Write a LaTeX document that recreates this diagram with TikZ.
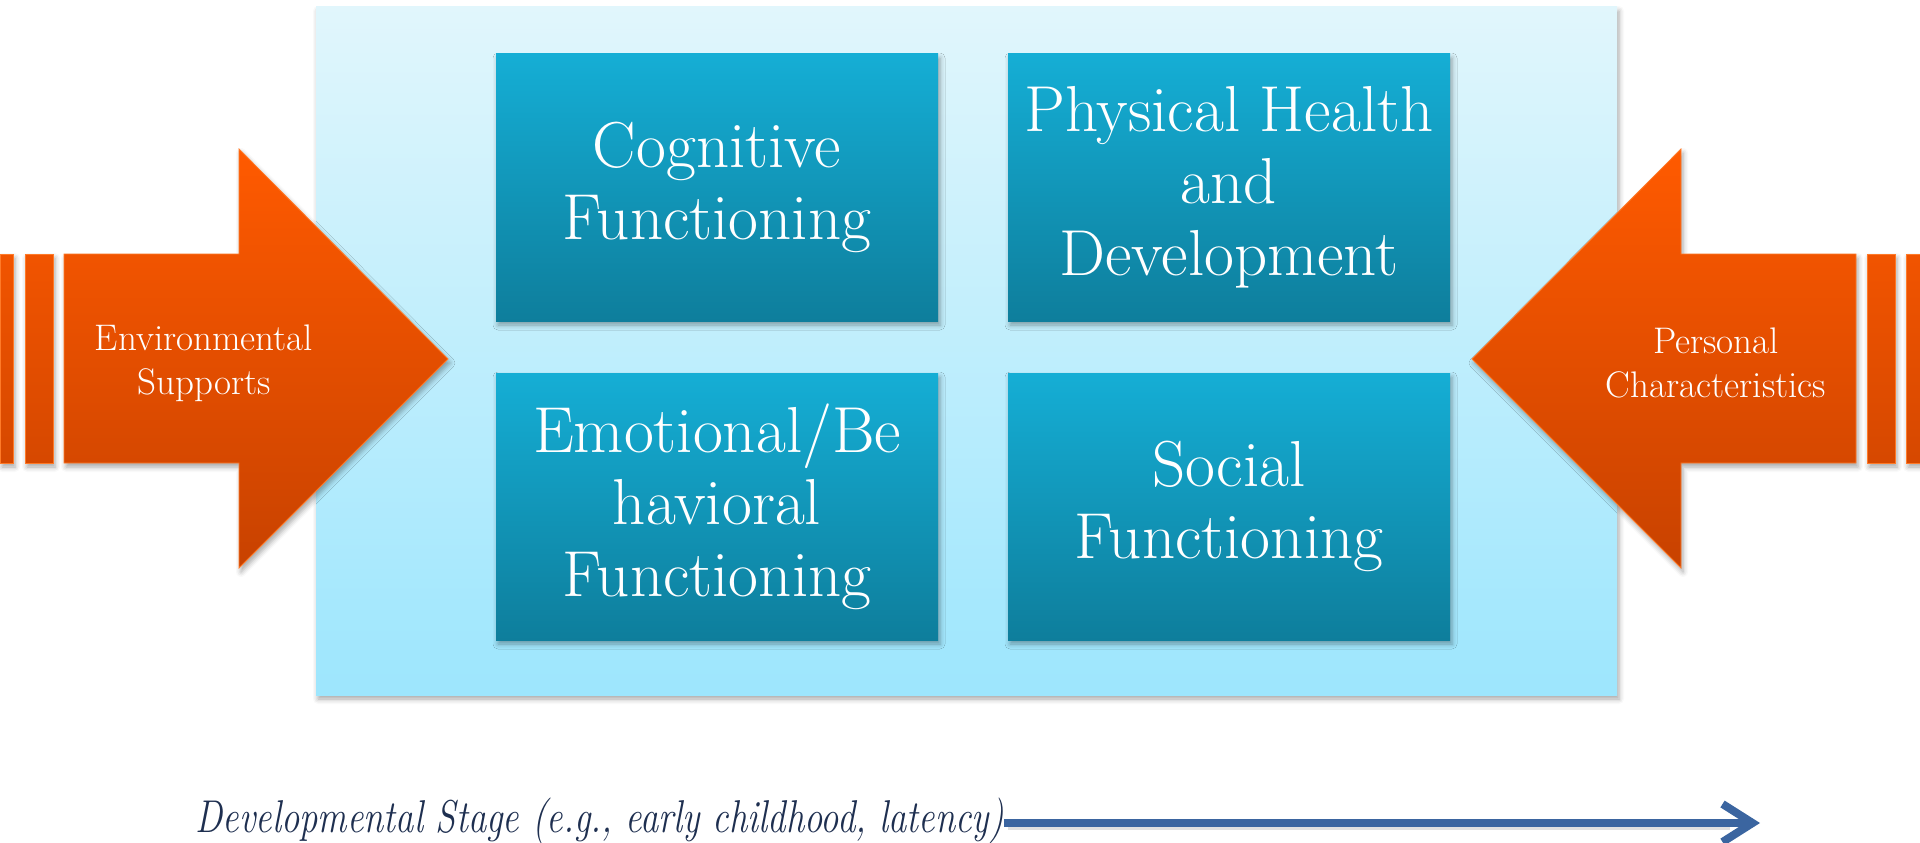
\documentclass[tikz,border=0pt]{standalone}
\usepackage{graphicx}
\usetikzlibrary{shadows.blur,arrows.meta}

\definecolor{panelTop}{RGB}{225,246,252}
\definecolor{panelBot}{RGB}{157,230,253}
\definecolor{boxTop}{RGB}{21,174,213}
\definecolor{boxBot}{RGB}{14,126,156}
\definecolor{orTop}{RGB}{255,90,0}
\definecolor{orBot}{RGB}{200,66,0}
\definecolor{orMidA}{RGB}{241,84,0}
\definecolor{orMidB}{RGB}{214,72,0}
\definecolor{orEdge}{RGB}{255,122,40}
\definecolor{navy}{RGB}{30,47,80}
\definecolor{stageBlue}{RGB}{59,101,160}

\begin{document}
\begin{tikzpicture}[x=1pt,y=-1pt,
  softshadow/.style={blur shadow={shadow xshift=2pt,shadow yshift=-4pt,
      shadow blur radius=5pt,shadow opacity=35}},
  panelbox/.style={rectangle,draw=none,top color=panelTop,bottom color=panelBot,
      softshadow,minimum width=1301pt,minimum height=688pt,inner sep=0pt},
  domainbox/.style={rectangle,draw=none,top color=boxTop,bottom color=boxBot,
      softshadow,text=white,align=center,inner sep=0pt,
      minimum width=442pt,minimum height=267pt,
      font=\fontsize{65}{72}\selectfont},
  bigarrow/.style={top color=orTop,bottom color=orBot,draw=orEdge,
      line width=0.8pt,line join=miter,softshadow},
  bar/.style={top color=orMidA,bottom color=orMidB,draw=orEdge,
      line width=0.8pt,softshadow},
  arrowlabel/.style={text=white,align=center,inner sep=0pt,
      font=\fontsize{37}{44}\selectfont},
  stagearrow/.style={draw=stageBlue,line width=8pt,
      -{Straight Barb[length=30pt,width=38pt]}}
]
\useasboundingbox (0,0) rectangle (1920,843);

% background panel holding the four domains
\node[panelbox] (panel) at (966.5,351) {};

% domain boxes
\node[domainbox] (cog)  at (717,187.5)  {Cognitive\\Functioning};
\node[domainbox] (phys) at (1229,187.5) {Physical Health\\and\\Development};
\node[domainbox] (emo)  at (717,506.5)  {Emotional/Be\\havioral\\Functioning};
\node[domainbox] (soc)  at (1229,506.5) {Social\\Functioning};

% left block arrow with its trailing bars
\path[bar] (0,254) rectangle (13,463);
\path[bar] (25,254) rectangle (53,463);
\path[bigarrow] (64,254) -- (239,254) -- (239,149) -- (448,359)
  -- (239,568) -- (239,463) -- (64,463) -- cycle;
\node[arrowlabel] (env) at (204,363) {Environmental\\Supports};

% right block arrow with its trailing bars
\path[bar] (1867,254) rectangle (1895,463);
\path[bar] (1906,254) rectangle (1925,463);
\path[bigarrow] (1856,254) -- (1681,254) -- (1681,149) -- (1472,359)
  -- (1681,568) -- (1681,463) -- (1856,463) -- cycle;
\node[arrowlabel] (pers) at (1716,363) {Personal\\Characteristics};

% developmental stage axis
\node[anchor=base east,inner sep=0pt,text=navy] (stage) at (1004,832)
  {\resizebox{808pt}{\height}{\fontsize{46}{50}\selectfont\itshape
   Developmental Stage (e.g., early childhood, latency)}};
\coordinate (stageEnd) at (1760,823);
\draw[draw=black,opacity=0.12,line width=8pt]
  ([xshift=4pt,yshift=-3pt]stage.east |- stageEnd) -- ([xshift=-30pt,yshift=-3pt]stageEnd);
\draw[stagearrow] (stage.east |- stageEnd) -- (stageEnd);
\end{tikzpicture}
\end{document}
